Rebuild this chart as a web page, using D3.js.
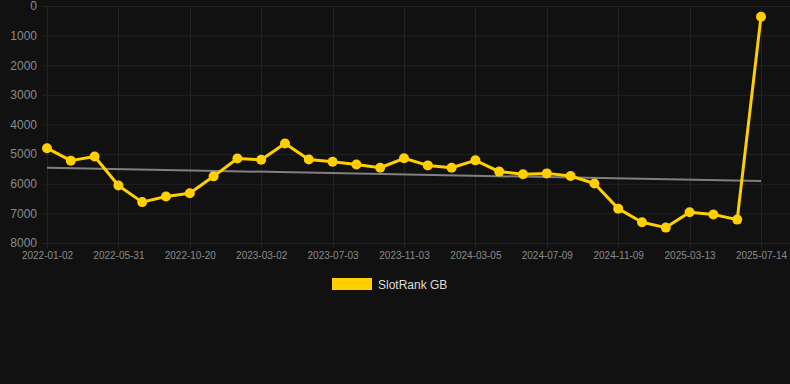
<!DOCTYPE html>
<html>
<head>
<meta charset="utf-8">
<script src="https://cdn.jsdelivr.net/npm/d3@7/dist/d3.min.js"></script>
<style>
    html, body { margin: 0; padding: 0; background: #111111; }
    .chart { width: 790px; height: 384px; }
    text { font-family: "Liberation Sans", Arial, sans-serif; }
</style>
</head>
<body>
<div class="chart"></div>
<script>
// tick labels (every third point)
var xLabels = ['2022-01-02', '2022-05-31', '2022-10-20', '2023-03-02', '2023-07-03', '2023-11-03',
    '2024-03-05', '2024-07-09', '2024-11-09', '2025-03-13', '2025-07-14'];
// SlotRank GB rank values, one per point
var rankValues = [4800, 5220, 5080, 6060, 6620, 6430, 6320, 5750, 5150, 5190,
    4640, 5180, 5260, 5350, 5460, 5140, 5380, 5460, 5210, 5590,
    5680, 5650, 5740, 5990, 6840, 7300, 7480, 6960, 7040, 7210, 360];
// trend line start / end
var trendValues = [5460, 5910];
var yTicks = [0, 1000, 2000, 3000, 4000, 5000, 6000, 7000, 8000];

var width = 790, height = 384;

var svg = d3.select('.chart').append('svg')
    .attr('width', width)
    .attr('height', height);

svg.append('rect').attr('width', width).attr('height', height).attr('fill', '#111111');

var x = d3.scaleLinear()
    .domain([0, rankValues.length - 1])
    .range([47, 761]);

// rank axis is reversed: 0 on top
var y = d3.scaleLinear()
    .domain([0, 8000])
    .range([6, 243]);

var tickIdx = xLabels.map(function (d, i) { return i * 3 });

//网格
svg.append('g').selectAll('line.hgrid')
    .data(yTicks)
    .enter().append('line')
    .attr('x1', 43).attr('x2', width)
    .attr('y1', function (d) { return y(d) + 0.5 })
    .attr('y2', function (d) { return y(d) + 0.5 })
    .style('stroke', '#232323').style('stroke-width', 1);

svg.append('g').selectAll('line.vgrid')
    .data(tickIdx)
    .enter().append('line')
    .attr('x1', function (d) { return Math.round(x(d)) + 0.5 })
    .attr('x2', function (d) { return Math.round(x(d)) + 0.5 })
    .attr('y1', y(0)).attr('y2', y(8000) + 5)
    .style('stroke', '#232323').style('stroke-width', 1);

// y axis
var yAxis = svg.append('g')
    .attr('transform', 'translate(37,0)')
    .call(d3.axisLeft(y).tickValues(yTicks).tickSize(0).tickPadding(0).tickFormat(d3.format('d')));
yAxis.select('.domain').remove();
yAxis.selectAll('text')
    .style('fill', '#8a8a8a')
    .style('font-size', '12px');

// x axis
var xAxis = svg.append('g')
    .attr('transform', 'translate(0,' + 252 + ')')
    .call(d3.axisBottom(x).tickValues(tickIdx).tickSize(0).tickPadding(0)
        .tickFormat(function (d) { return xLabels[d / 3] }));
xAxis.select('.domain').remove();
xAxis.selectAll('text')
    .style('fill', '#8a8a8a')
    .style('font-size', '10px');

// trend line
svg.append('line')
    .attr('x1', x(0)).attr('y1', y(trendValues[0]))
    .attr('x2', x(rankValues.length - 1)).attr('y2', y(trendValues[1]))
    .style('stroke', '#808080')
    .style('stroke-width', 2);

// rank line
var line = d3.line()
    .x(function (d, i) { return x(i) })
    .y(function (d) { return y(d) });

svg.append('path')
    .datum(rankValues)
    .attr('d', line)
    .style('fill', 'none')
    .style('stroke', '#FFCF00')
    .style('stroke-width', 3)
    .style('stroke-linejoin', 'round');

svg.append('g').selectAll('circle')
    .data(rankValues)
    .enter().append('circle')
    .attr('cx', function (d, i) { return x(i) })
    .attr('cy', function (d) { return y(d) })
    .attr('r', 5)
    .attr('fill', '#FFCF00');

// legend
svg.append('rect')
    .attr('x', 332).attr('y', 278)
    .attr('width', 40).attr('height', 12)
    .attr('fill', '#FFCF00');
svg.append('text')
    .attr('x', 378).attr('y', 289)
    .text('SlotRank GB')
    .style('fill', '#dddddd')
    .style('font-size', '12px');
</script>
</body>
</html>
